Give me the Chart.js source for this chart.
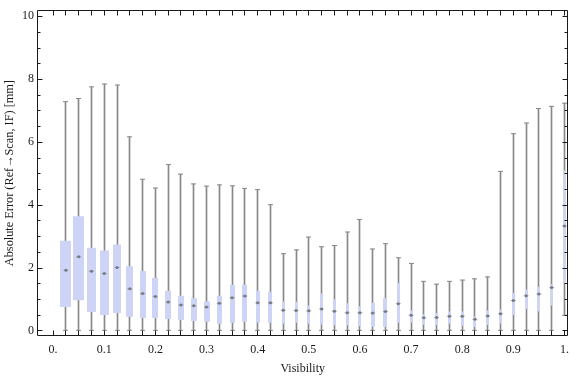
<!DOCTYPE html>
<html>
<head>
<meta charset="utf-8">
<script src="https://cdn.jsdelivr.net/npm/chart.js@4"></script>
<style>
    html, body { margin: 0; padding: 0; background: #fff; }
</style>
</head>
<body>
<canvas id="errorChart" width="576" height="377"></canvas>
<script>
// Visibility bins (box centres)
const visibility = [0.025, 0.05, 0.075, 0.1, 0.125, 0.15, 0.175, 0.2, 0.225, 0.25,
                    0.275, 0.3, 0.325, 0.35, 0.375, 0.4, 0.425, 0.45, 0.475, 0.5,
                    0.525, 0.55, 0.575, 0.6, 0.625, 0.65, 0.675, 0.7, 0.725, 0.75,
                    0.775, 0.8, 0.825, 0.85, 0.875, 0.9, 0.925, 0.95, 0.975, 1.0];

// Box-whisker statistics, absolute error in mm
const whiskerLow = [0, 0, 0, 0, 0, 0, 0, 0, 0, 0,
                    0, 0, 0, 0, 0, 0, 0, 0, 0, 0,
                    0, 0, 0, 0, 0, 0, 0, 0, 0, 0,
                    0, 0, 0, 0, 0, 0, 0, 0, 0, 0.48];
const whiskerHigh = [7.28, 7.38, 7.75, 7.84, 7.81, 6.16, 4.81, 4.53, 5.28, 4.97,
                     4.66, 4.59, 4.63, 4.6, 4.52, 4.48, 4.0, 2.44, 2.56, 2.97,
                     2.66, 2.70, 3.13, 3.53, 2.59, 2.76, 2.31, 2.13, 1.56, 1.47,
                     1.56, 1.60, 1.64, 1.70, 5.06, 6.26, 6.6, 7.06, 7.13, 7.23];
const quartileLow = [0.74, 0.96, 0.58, 0.49, 0.55, 0.43, 0.39, 0.39, 0.36, 0.33,
                     0.30, 0.27, 0.21, 0.24, 0.27, 0.25, 0.24, 0.21, 0.24, 0.21,
                     0.19, 0.16, 0.16, 0.13, 0.11, 0.11, 0.24, 0.25, 0.18, 0.17,
                     0.21, 0.14, 0.11, 0.17, 0.22, 0.49, 0.68, 0.60, 0.79, 1.50];
const quartileHigh = [2.85, 3.63, 2.63, 2.54, 2.73, 2.04, 1.89, 1.67, 1.26, 1.10,
                      1.02, 0.92, 1.10, 1.45, 1.45, 1.26, 1.23, 0.92, 0.91, 0.79,
                      1.17, 0.99, 0.86, 0.77, 0.88, 1.02, 1.51, 0.63, 0.51, 0.55,
                      0.60, 0.60, 0.45, 0.63, 0.66, 1.19, 1.30, 1.39, 1.47, 5.09];
const medians = [1.91, 2.34, 1.88, 1.81, 2.0, 1.32, 1.17, 1.08, 0.9, 0.81,
                 0.78, 0.74, 0.86, 1.04, 1.09, 0.875, 0.875, 0.64, 0.63, 0.62,
                 0.68, 0.61, 0.56, 0.56, 0.55, 0.60, 0.85, 0.48, 0.40, 0.41,
                 0.45, 0.45, 0.35, 0.46, 0.53, 0.95, 1.10, 1.16, 1.36, 3.32];

// Axis ticks
const xTickValues = [0, 0.1, 0.2, 0.3, 0.4, 0.5, 0.6, 0.7, 0.8, 0.9, 1.0];
const xTickLabels = ['0.', '0.1', '0.2', '0.3', '0.4', '0.5', '0.6', '0.7', '0.8', '0.9', '1.'];
const yTickValues = [0, 2, 4, 6, 8, 10];

// Styling
const boxWidths = [11, 11, 9, 9, 8, 7, 6, 6, 6, 6, 6, 6, 5, 5, 5, 4, 4, 3, 3, 3,
                   3, 3, 3, 3, 4, 4, 3, 3, 3, 3, 3, 3, 3, 3, 3, 3, 3, 3, 2, 2];
const FONT = '"Liberation Serif", "Times New Roman", serif';
const TEXT_COLOR = '#1a1a1a';
const WHISKER_COLOR = '#888888';
const BOX_COLOR = 'rgb(205, 212, 245)';

// snap an x pixel to the middle of a device pixel so 1px lines stay crisp
const snap = px => Math.floor(px) + 0.5;

/**
 * Mathematica-like frame with inward ticks, plus box widths
 */
const framePlugin = {
    id: 'frameTicks',
    afterDatasetsUpdate(chart) {
        chart.getDatasetMeta(0).data.forEach(bar => { bar.x = snap(bar.x); });
        chart.getDatasetMeta(1).data.forEach((bar, i) => {
            bar.x = boxWidths[i] % 2 ? snap(bar.x) : Math.round(bar.x);
            bar.width = boxWidths[i];
        });
        chart.getDatasetMeta(2).data.forEach(pt => { pt.x = snap(pt.x); });
    },
    afterDraw(chart) {
        const { ctx, chartArea: a, scales: { x, y } } = chart;
        const L = Math.round(a.left) + 0.5, R = Math.round(a.right) - 0.5;
        const T = Math.round(a.top) + 0.5, B = Math.round(a.bottom) - 0.5;
        ctx.save();
        ctx.strokeStyle = TEXT_COLOR;
        ctx.lineWidth = 1;
        ctx.beginPath();
        ctx.rect(L, T, R - L, B - T);

        // x ticks at every bin, top and bottom
        [0, ...visibility].forEach(v => {
            const px = snap(x.getPixelForValue(v));
            ctx.moveTo(px, B); ctx.lineTo(px, B - 5);
            ctx.moveTo(px, T); ctx.lineTo(px, T + 5);
        });

        // y ticks: major + minor, left and right
        for (let v = 0; v <= 10; v += 0.5) {
            const py = Math.round(y.getPixelForValue(v)) + 0.5;
            const len = yTickValues.includes(v) ? 5 : 3;
            ctx.moveTo(L, py); ctx.lineTo(L + len, py);
            ctx.moveTo(R, py); ctx.lineTo(R - len, py);
        }
        ctx.stroke();
        ctx.restore();
    }
};

const ctx = document.getElementById('errorChart');

new Chart(ctx, {
    type: 'bar',
    data: {
        datasets: [
            {
                // whisker lines
                type: 'bar',
                data: visibility.map((v, i) => ({ x: v, y: [whiskerLow[i], whiskerHigh[i]] })),
                backgroundColor: WHISKER_COLOR,
                barThickness: 1,
                maxBarThickness: 1,
                grouped: false,
                order: 5
            },
            {
                // interquartile boxes
                type: 'bar',
                data: visibility.map((v, i) => ({ x: v, y: [quartileLow[i], quartileHigh[i]] })),
                backgroundColor: BOX_COLOR,
                grouped: false,
                order: 3
            },
            {
                // whisker caps
                type: 'line',
                data: visibility.map((v, i) => ({ x: v, y: whiskerHigh[i] }))
                    .concat(visibility.map((v, i) => ({ x: v, y: whiskerLow[i] }))),
                showLine: false,
                pointStyle: 'line',
                pointRadius: 2.5,
                pointBorderWidth: 1,
                pointBorderColor: WHISKER_COLOR,
                order: 4
            },
            {
                // median dash
                type: 'line',
                data: visibility.map((v, i) => ({ x: v, y: medians[i] })),
                showLine: false,
                pointStyle: 'line',
                pointRadius: 2.5,
                pointBorderWidth: 1,
                pointBorderColor: 'rgba(120, 120, 130, 0.6)',
                order: 2
            },
            {
                // median dot
                type: 'line',
                data: visibility.map((v, i) => ({ x: v, y: medians[i] })),
                showLine: false,
                pointStyle: 'circle',
                pointRadius: 1.5,
                pointBorderWidth: 0,
                pointBackgroundColor: 'rgb(120, 120, 128)',
                order: 1
            }
        ]
    },
    options: {
        responsive: false,
        animation: false,
        events: [],
        layout: { padding: { top: 4, right: 1, left: 0, bottom: 0 } },
        plugins: {
            legend: { display: false },
            tooltip: { enabled: false }
        },
        scales: {
            x: {
                type: 'linear',
                min: -0.0315,
                max: 1.0077,
                offset: false,
                grid: { display: false, drawTicks: false },
                border: { display: false },
                afterBuildTicks: scale => {
                    scale.ticks = xTickValues.map(v => ({ value: v }));
                },
                afterFit: scale => { scale.height = 41; },
                ticks: {
                    padding: 7,
                    autoSkip: false,
                    maxRotation: 0,
                    color: TEXT_COLOR,
                    font: { family: FONT, size: 12 },
                    callback: (value, index) => xTickLabels[index]
                },
                title: {
                    display: true,
                    text: 'Visibility',
                    color: TEXT_COLOR,
                    font: { family: FONT, size: 12 },
                    padding: { top: 0, bottom: 1 }
                }
            },
            y: {
                type: 'linear',
                min: -0.18,
                max: 10.19,
                stacked: false,
                grid: { display: false, drawTicks: false },
                border: { display: false },
                afterBuildTicks: scale => {
                    scale.ticks = yTickValues.map(v => ({ value: v }));
                },
                afterFit: scale => { scale.width = 37; },
                ticks: {
                    padding: 3,
                    color: TEXT_COLOR,
                    font: { family: FONT, size: 12 },
                    callback: value => String(value)
                },
                title: {
                    display: true,
                    text: 'Absolute Error (Ref\u2192Scan, IF) [mm]',
                    color: TEXT_COLOR,
                    font: { family: FONT, size: 12.3 },
                    padding: { top: 2, bottom: 0 }
                }
            }
        }
    },
    plugins: [framePlugin]
});
</script>
</body>
</html>
